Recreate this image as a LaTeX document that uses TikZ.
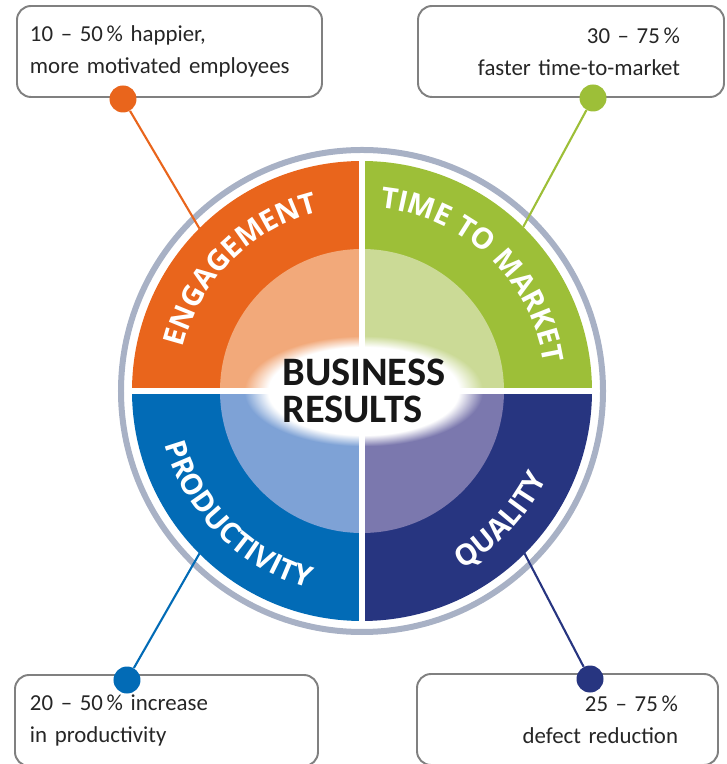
\documentclass[tikz,border=0pt]{standalone}
\usepackage{fontspec}
\setmainfont{Carlito}
\newfontfamily\quadfont{Open Sans}
\usetikzlibrary{decorations.text, fadings, positioning}

\definecolor{engorange}{RGB}{233,101,28}
\definecolor{englight}{RGB}{242,169,122}
\definecolor{timegreen}{RGB}{157,191,56}
\definecolor{timelight}{RGB}{203,218,150}
\definecolor{prodblue}{RGB}{2,107,182}
\definecolor{prodlight}{RGB}{126,162,214}
\definecolor{qualnavy}{RGB}{39,53,128}
\definecolor{quallight}{RGB}{123,120,174}
\definecolor{ringgray}{RGB}{168,177,197}
\definecolor{boxgray}{RGB}{128,128,128}
\definecolor{textgray}{RGB}{38,38,38}

\newcommand{\quadlabelfont}{\quadfont\bfseries\fontsize{16.5}{18}\selectfont}

\begin{document}
\begin{tikzpicture}[
    result/.style={rectangle, draw=boxgray, line width=1.1pt, rounded corners=0.28cm, fill=white, minimum height=1.82cm, font=\fontsize{13}{18}\selectfont, text=textgray},
    marker/.style={circle, inner sep=0pt, minimum size=0.54cm},
    link/.style={line width=1.2pt},
    quadlabel/.style={decorate, decoration={text along path, text align=center, text color=white, text={#1}}}
]
\clip (-7.24,-7.46) rectangle (7.28,7.82);

% Outer ring
\draw[ringgray, line width=0.12cm] (0,0) circle (4.82);

% Quadrants
\fill[engorange] (0,0) -- (180:4.6) arc[start angle=180, end angle=90, radius=4.6] -- cycle;
\fill[timegreen] (0,0) -- (90:4.6) arc[start angle=90, end angle=0, radius=4.6] -- cycle;
\fill[prodblue] (0,0) -- (180:4.6) arc[start angle=180, end angle=270, radius=4.6] -- cycle;
\fill[qualnavy] (0,0) -- (270:4.6) arc[start angle=270, end angle=360, radius=4.6] -- cycle;

% Inner circle
\fill[englight] (0,0) -- (180:2.84) arc[start angle=180, end angle=90, radius=2.84] -- cycle;
\fill[timelight] (0,0) -- (90:2.84) arc[start angle=90, end angle=0, radius=2.84] -- cycle;
\fill[prodlight] (0,0) -- (180:2.84) arc[start angle=180, end angle=270, radius=2.84] -- cycle;
\fill[quallight] (0,0) -- (270:2.84) arc[start angle=270, end angle=360, radius=2.84] -- cycle;

% Gaps between quadrants
\draw[white, line width=0.12cm] (-4.7,0) -- (4.7,0);
\draw[white, line width=0.12cm] (0,-4.7) -- (0,4.7);

% Curved labels
\path[quadlabel={|\quadlabelfont|ENGAGEMENT}] (175:3.68) arc[start angle=175, end angle=95, radius=3.68];
\path[quadlabel={|\quadlabelfont|TIME TO MARKET}] (96.5:3.68) arc[start angle=96.5, end angle=-3.5, radius=3.68];
\path[quadlabel={|\quadlabelfont|PRODUCTIVITY}] (175:4.08) arc[start angle=175, end angle=275, radius=4.08];
\path[quadlabel={|\quadlabelfont|QUALITY}] (272:4.08) arc[start angle=272, end angle=362, radius=4.08];

% Center text with glow
\fill[white, path fading=circle with fuzzy edge 20 percent] (-2.35,-1.1) rectangle (2.41,1.1);
\node[anchor=west, inner sep=0pt, align=left, text=textgray!60!black, font=\bfseries\fontsize{23}{21}\selectfont] (center) at (-1.6,0) {BUSINESS\\RESULTS};

% Callouts
\node[result, minimum width=6.1cm, inner xsep=0.26cm, text width=5.58cm, align=left] (engbox) at (-3.85,6.79) {10 -- 50\,\% happier,\\more motivated employees};
\node[result, minimum width=6.12cm, inner xsep=0.88cm, text width=4.36cm, align=right] (timebox) at (4.18,6.79) {30 -- 75\,\%\\faster time-to-market};
\node[result, minimum width=6.06cm, inner xsep=0.3cm, text width=5.46cm, align=left] (prodbox) at (-3.91,-6.59) {20 -- 50\,\% increase\\in productivity};
\node[result, minimum width=6.02cm, inner xsep=0.8cm, text width=4.42cm, align=right] (qualbox) at (4.11,-6.57) {25 -- 75\,\%\\defect reduction};

% Connector ends on the quadrants
\coordinate (engend) at (135:4.6);
\coordinate (timeend) at (45.5:4.6);
\coordinate (prodend) at (225:4.6);
\coordinate (qualend) at (315:4.6);

% Markers
\node[marker, fill=engorange] (engdot) at (-4.78,5.84) {};
\node[marker, fill=timegreen] (timedot) at (4.62,5.86) {};
\node[marker, fill=prodblue] (proddot) at (-4.7,-5.78) {};
\node[marker, fill=qualnavy] (qualdot) at (4.56,-5.76) {};

\draw[link, engorange] (engdot) -- (engend);
\draw[link, timegreen] (timedot) -- (timeend);
\draw[link, prodblue] (proddot) -- (prodend);
\draw[link, qualnavy] (qualdot) -- (qualend);

\end{tikzpicture}
\end{document}
